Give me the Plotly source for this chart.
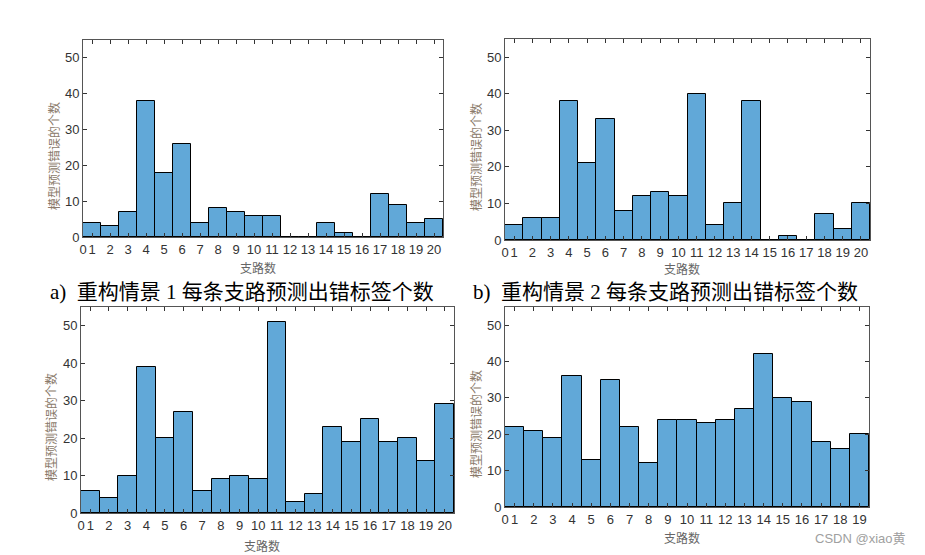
import plotly.graph_objects as go

branches_20 = list(range(1, 21))
branches_19 = list(range(1, 20))
errors_a = [4, 3, 7, 38, 18, 26, 4, 8, 7, 6, 6, 0, 0, 4, 1, 0, 12, 9, 4, 5]
errors_b = [4, 6, 6, 38, 21, 33, 8, 12, 13, 12, 40, 4, 10, 38, 0, 1, 0, 7, 3, 10]
errors_c = [6, 4, 10, 39, 20, 27, 6, 9, 10, 9, 51, 3, 5, 23, 19, 25, 19, 20, 14, 29]
errors_d = [22, 21, 19, 36, 13, 35, 22, 12, 24, 24, 23, 24, 27, 42, 30, 29, 18, 16, 20]
y_ticks = [0, 10, 20, 30, 40, 50]
y_label = "模型预测错误的个数"
x_label = "支路数"
caption_a = "a)  重构情景 1 每条支路预测出错标签个数"
caption_b = "b)  重构情景 2 每条支路预测出错标签个数"

W, H = 925, 555
BAR = "#61A8D8"

panels = [
    (branches_20, errors_a, (83, 443, 40, 237), (53, 156), (258, 267)),
    (branches_20, errors_b, (505, 870, 39, 240), (475, 157), (682, 269)),
    (branches_20, errors_c, (81, 454, 307, 513), (50, 427), (262, 545)),
    (branches_19, errors_d, (505, 869, 307, 507), (475, 424), (682, 537)),
]

fig = go.Figure()
layout = dict(
    width=W, height=H, margin=dict(l=0, r=0, t=0, b=0),
    paper_bgcolor="white", plot_bgcolor="white", showlegend=False,
    bargap=0, font=dict(family="Liberation Sans, Arial", color="#333333"),
)
annotations = []

def px(x):
    return x / W

def py(y):
    return 1 - y / H

for i, (xs, ys, box, ylab, xlab) in enumerate(panels):
    n = i + 1
    sfx = "" if n == 1 else str(n)
    fig.add_trace(go.Bar(
        x=xs, y=ys, width=1, marker=dict(color=BAR, line=dict(color="#000000", width=1)),
        xaxis="x" + sfx, yaxis="y" + sfx, hoverinfo="x+y",
    ))
    x0, x1, yt, yb = box
    nb = len(xs)
    tickvals = [0.5] + xs
    ticktext = ["0"] + [str(v) for v in xs]
    layout["xaxis" + sfx] = dict(
        domain=[px(x0), px(x1)], range=[0.5, nb + 0.5], anchor="y" + sfx,
        tickmode="array", tickvals=tickvals, ticktext=ticktext, tickangle=0,
        ticks="inside", ticklen=4, tickcolor="#333333", tickwidth=1,
        showline=True, linecolor="#555555", linewidth=1, mirror="ticks",
        showgrid=False, zeroline=False, tickfont=dict(size=13, color="#333333"),
        fixedrange=True, automargin=False,
    )
    layout["yaxis" + sfx] = dict(
        domain=[py(yb), py(yt)], range=[0, 55], anchor="x" + sfx,
        tickmode="array", tickvals=y_ticks,
        ticks="inside", ticklen=4, tickcolor="#333333", tickwidth=1,
        showline=True, linecolor="#555555", linewidth=1, mirror="ticks",
        showgrid=False, zeroline=False, tickfont=dict(size=13, color="#333333"),
        fixedrange=True, automargin=False,
    )
    annotations.append(dict(
        text=y_label, textangle=-90, x=px(ylab[0]), y=py(ylab[1]),
        xref="paper", yref="paper", showarrow=False, xanchor="center", yanchor="middle",
        font=dict(size=12, color="#8A7A6A", family="Noto Sans CJK SC"),
    ))
    annotations.append(dict(
        text=x_label, x=px(xlab[0]), y=py(xlab[1]),
        xref="paper", yref="paper", showarrow=False, xanchor="center", yanchor="middle",
        font=dict(size=12, color="#666666", family="Noto Sans CJK SC"),
    ))

for cap, cx in ((caption_a, 242), (caption_b, 665)):
    annotations.append(dict(
        text=cap, x=px(cx), y=py(292), xref="paper", yref="paper", showarrow=False,
        xanchor="center", yanchor="middle",
        font=dict(size=21, color="#000000", family="Liberation Serif, Noto Sans CJK SC"),
    ))
annotations.append(dict(
    text="CSDN @xiao黄", x=px(908), y=py(538), xref="paper", yref="paper", showarrow=False,
    xanchor="right", yanchor="middle",
    font=dict(size=13, color="#A0A0A0", family="Liberation Sans, Noto Sans CJK SC"),
))
layout["annotations"] = annotations
fig.update_layout(**layout)
fig.write_html(
    "out.html",
    config={"displayModeBar": False},
    post_script="document.body.style.margin='0';document.body.style.overflow='hidden';",
)
